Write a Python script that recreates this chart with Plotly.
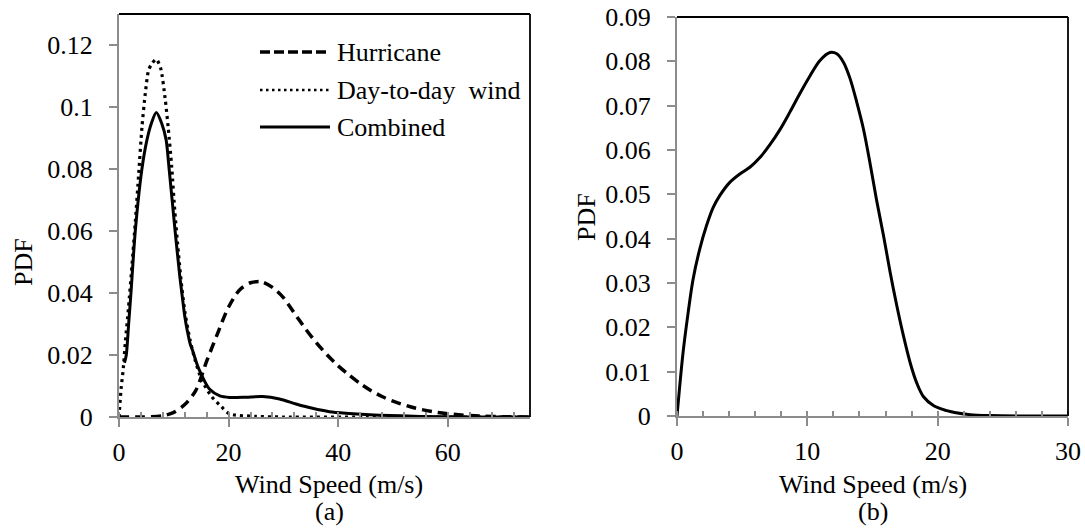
import plotly.graph_objects as go

# ---------------- data ----------------
# (a) Hurricane PDF
hu_x = [0, 4, 8, 10, 12, 14, 16, 18, 20, 22, 24, 26, 28, 30, 32, 34, 36, 38, 40, 42,
        44, 46, 48, 50, 54, 58, 62, 66, 70, 75]
hu_y = [0, 0, 0.0004, 0.0015, 0.004, 0.0085, 0.018, 0.027, 0.0355, 0.041, 0.0433,
        0.0436, 0.0418, 0.0385, 0.0335, 0.0285, 0.024, 0.020, 0.0165, 0.0135, 0.0108,
        0.0085, 0.0066, 0.0051, 0.0029, 0.0015, 0.0007, 0.0003, 0.0001, 0]

# (a) Day-to-day wind PDF
dd_x = [0, 0.4, 0.75, 1.15, 1.75, 2.35, 3.0, 3.6, 4.2, 4.8, 5.4, 6.0, 6.8, 7.6, 8.4,
        9.0, 9.6, 10.2, 10.85, 11.45, 12.06, 12.97, 13.88, 15.1, 16.9, 18.7, 20.2,
        25.0, 30.0, 45.0, 60.0, 75.0]
dd_y = [0, 0.0095, 0.015, 0.024, 0.0356, 0.0485, 0.0635, 0.0786, 0.0937, 0.1044,
        0.1119, 0.114, 0.1154, 0.1125, 0.103, 0.093, 0.081, 0.066, 0.0528, 0.042,
        0.0334, 0.0248, 0.0184, 0.0119, 0.0066, 0.0033, 0.001, 0.0002, 0, 0, 0, 0]

# (a) Combined PDF
cb_x = [1, 1.33, 1.76, 2.18, 2.97, 4.18, 5.1, 5.9, 6.8, 7.8, 8.6, 9.15, 10.24, 11.1,
        11.5, 12.0, 12.5, 13.0, 13.4, 14.2, 15.0, 16.5, 18.4, 20.2, 23.2, 26.2, 29.3,
        32.3, 35.3, 38.4, 41.4, 47.5, 55.0, 65.0, 75.0]
cb_y = [0.0175, 0.02, 0.03, 0.04, 0.06, 0.08, 0.0894, 0.0947, 0.0982, 0.0947, 0.0894,
        0.08, 0.06, 0.0453, 0.0395, 0.0325, 0.0275, 0.0235, 0.0216, 0.0172, 0.0138,
        0.009, 0.0068, 0.0063, 0.0064, 0.0066, 0.0058, 0.0042, 0.0028, 0.0017, 0.0012,
        0.0006, 0.0002, 0, 0]

# (b) PDF
rb_x = [0, 0.46, 0.85, 1.23, 1.74, 2.26, 2.77, 3.28, 4.05, 4.82, 5.59, 6.36, 7.13, 7.9,
        8.67, 9.44, 10.2, 10.97, 11.74, 12.26, 12.77, 13.28, 13.79, 14.3, 14.8, 15.3,
        15.85, 16.36, 16.87, 17.38, 17.9, 18.4, 18.9, 19.7, 20.7, 21.3, 22.5, 24.0,
        27.0, 30.0]
rb_y = [0, 0.0142, 0.0232, 0.0308, 0.0376, 0.0429, 0.047, 0.0497, 0.0527, 0.0546,
        0.0561, 0.0583, 0.0612, 0.0646, 0.0686, 0.0728, 0.0767, 0.0802, 0.082, 0.0817,
        0.0798, 0.0761, 0.0708, 0.0648, 0.0572, 0.0489, 0.0406, 0.0323, 0.0248, 0.018,
        0.0119, 0.0074, 0.0044, 0.0023, 0.0012, 0.0008, 0.0003, 0.0001, 0, 0]

# tick labels
a_xticks = [0, 20, 40, 60]
a_yticks = [0, 0.02, 0.04, 0.06, 0.08, 0.1, 0.12]
a_ytext = ["0", "0.02", "0.04", "0.06", "0.08", "0.1", "0.12"]
b_xticks = [0, 10, 20, 30]
b_yticks = [0, 0.01, 0.02, 0.03, 0.04, 0.05, 0.06, 0.07, 0.08, 0.09]
b_ytext = ["0", "0.01", "0.02", "0.03", "0.04", "0.05", "0.06", "0.07", "0.08", "0.09"]

legend_names = ["Hurricane", "Day-to-day\u00a0 wind", "Combined"]
x_title = "Wind Speed (m/s)"
y_title = "PDF"

# ---------------- figure ----------------
W, H = 1085, 529
FONT = "Liberation Serif, Times New Roman, serif"
FS = 26
AX = "#8c8c8c"

def px(x):
    return x / W

def py(y):
    return 1 - y / H

fig = go.Figure()
fig.add_trace(go.Scatter(x=hu_x, y=hu_y, mode="lines", xaxis="x", yaxis="y",
                         line=dict(color="black", width=3.5, dash="10px,6px",
                                   shape="spline", smoothing=0.8),
                         showlegend=False))
fig.add_trace(go.Scatter(x=dd_x, y=dd_y, mode="lines", xaxis="x", yaxis="y",
                         line=dict(color="black", width=3.2, dash="3px,4px",
                                   shape="spline", smoothing=0.7),
                         showlegend=False))
fig.add_trace(go.Scatter(x=cb_x, y=cb_y, mode="lines", xaxis="x", yaxis="y",
                         line=dict(color="black", width=3, shape="spline", smoothing=0.7),
                         showlegend=False))
fig.add_trace(go.Scatter(x=rb_x, y=rb_y, mode="lines", xaxis="x2", yaxis="y2",
                         line=dict(color="black", width=3, shape="spline", smoothing=0.9),
                         showlegend=False))

tickfont = dict(family=FONT, size=FS, color="black")
common_x = dict(showgrid=False, zeroline=False, showline=True, linecolor=AX, linewidth=2,
                ticks="outside", ticklen=8, tickwidth=2, tickcolor=AX, tickfont=tickfont,
                ticklabelstandoff=3, fixedrange=True, automargin=False)
common_y = dict(showgrid=False, zeroline=False, showline=True, linecolor=AX, linewidth=2,
                ticks="outside", ticklen=8, tickwidth=2, tickcolor=AX, tickfont=tickfont,
                ticklabelstandoff=11, fixedrange=True, automargin=False)

fig.update_layout(
    width=W, height=H,
    margin=dict(l=0, r=0, t=0, b=0, pad=0, autoexpand=False),
    paper_bgcolor="white", plot_bgcolor="white",
    showlegend=False,
    font=dict(family=FONT, size=FS, color="black"),
    xaxis=dict(common_x, domain=[px(119), px(530)], range=[0, 75], anchor="y",
               tickvals=a_xticks, ticktext=[str(v) for v in a_xticks],
               minor=dict(dtick=4, tick0=0, ticks="inside", ticklen=5, tickwidth=1.5,
                          tickcolor=AX, showgrid=False)),
    yaxis=dict(common_y, domain=[py(417), py(14)], range=[0, 0.13], anchor="x",
               tickvals=a_yticks, ticktext=a_ytext),
    xaxis2=dict(common_x, domain=[px(677), px(1068)], range=[0, 30], anchor="y2",
                tickvals=b_xticks, ticktext=[str(v) for v in b_xticks],
                minor=dict(dtick=2, tick0=0, ticks="inside", ticklen=5, tickwidth=1.5,
                           tickcolor=AX, showgrid=False)),
    yaxis2=dict(common_y, domain=[py(416), py(17)], range=[0, 0.09], anchor="x2",
                tickvals=b_yticks, ticktext=b_ytext),
)

# plot-area borders (top and right, black)
for xr, yr in (("x domain", "y domain"), ("x2 domain", "y2 domain")):
    fig.add_shape(type="line", xref=xr, yref=yr, x0=0, x1=1, y0=1, y1=1,
                  line=dict(color="black", width=1.8), layer="above")
    fig.add_shape(type="line", xref=xr, yref=yr, x0=1, x1=1, y0=0, y1=1,
                  line=dict(color="black", width=1.8), layer="above")

# custom legend (line samples + labels)
leg_y = [52, 90, 127]
leg_dash = ["10px,4px", "2.5px,3.5px", "solid"]
leg_w = [3.5, 2.5, 3]
for name, ly, dsh, lw in zip(legend_names, leg_y, leg_dash, leg_w):
    fig.add_shape(type="line", xref="paper", yref="paper",
                  x0=px(260), x1=px(330), y0=py(ly), y1=py(ly),
                  line=dict(color="black", width=lw, dash=dsh))
    fig.add_annotation(xref="paper", yref="paper", x=px(335), y=py(ly + 1),
                       text=name, showarrow=False, xanchor="left", yanchor="middle",
                       font=dict(family=FONT, size=FS, color="black"))

# axis titles and panel captions
for cx, cap in ((329, "(a)"), (873, "(b)")):
    fig.add_annotation(xref="paper", yref="paper", x=px(cx), y=py(484), text=x_title,
                       showarrow=False, xanchor="center", yanchor="middle",
                       font=dict(family=FONT, size=FS, color="black"))
    fig.add_annotation(xref="paper", yref="paper", x=px(cx), y=py(511), text=cap,
                       showarrow=False, xanchor="center", yanchor="middle",
                       font=dict(family=FONT, size=FS, color="black"))
for cx, cy in ((23, 262), (587, 217)):
    fig.add_annotation(xref="paper", yref="paper", x=px(cx), y=py(cy), text=y_title,
                       showarrow=False, textangle=-90, xanchor="center", yanchor="middle",
                       font=dict(family=FONT, size=FS, color="black"))

fig.write_html("out.html", config=dict(displayModeBar=False))
